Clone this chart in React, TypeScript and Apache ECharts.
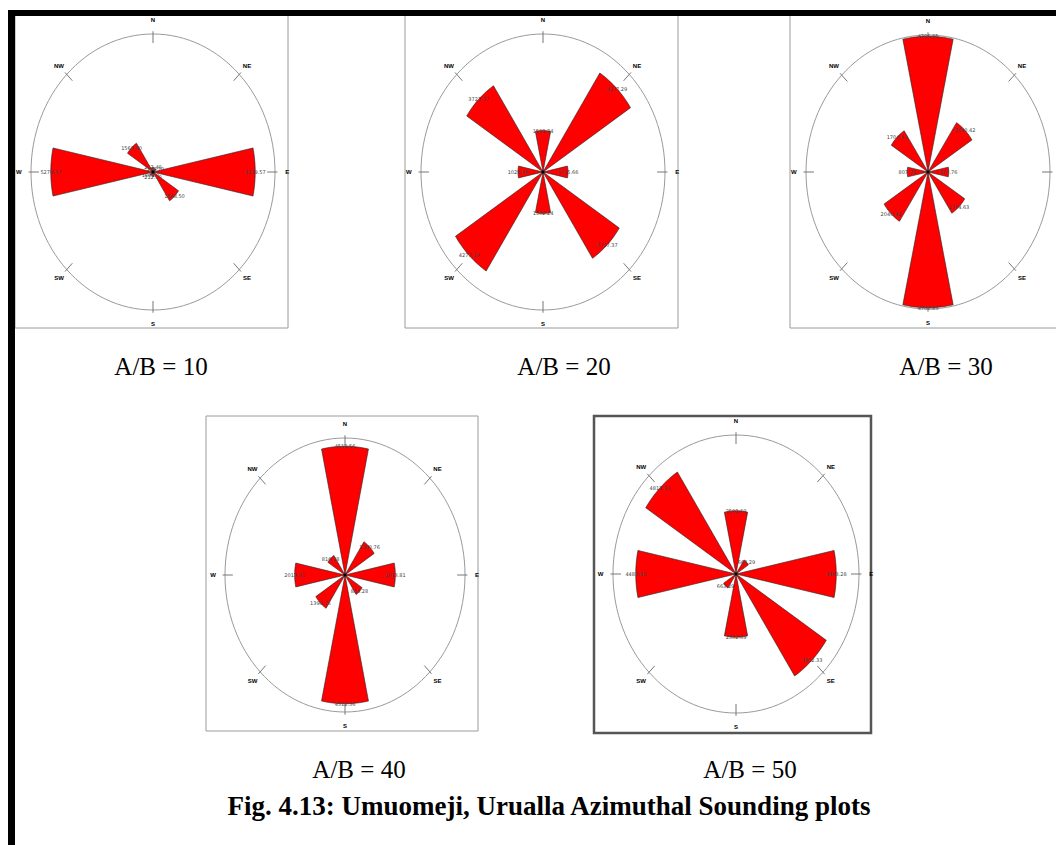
import React, { useEffect, useRef } from "react";
import * as echarts from "echarts";

// Azimuths at which apparent resistivity was measured (degrees from north).
// Each reading is drawn as a petal in its own direction and in the opposite one.
const AZIMUTHS = [0, 45, 90, 135];

// Electrode half-spacings of the five soundings.
const AB_SPACINGS = [10, 20, 30, 40, 50];

// Apparent resistivity (ohm-m) per azimuth, in the order of AZIMUTHS.
const RHO_AB10 = [212.4, 186.7, 5279.57, 1568.5];
const RHO_AB20 = [1502.24, 4277.29, 1025.66, 3727.37];
const RHO_AB30 = [4706.85, 2040.42, 807.76, 1704.63];
const RHO_AB40 = [4512.56, 1390.76, 2013.81, 816.28];
const RHO_AB50 = [2502.69, 663.29, 4483.28, 4812.33];

// Value at the outer ring of each rose.
const RADIUS_MAX = [6300, 5000, 4750, 4800, 5500];

const COMPASS = ["N", "NE", "E", "SE", "S", "SW", "W", "NW"];

const CAPTION = "Fig. 4.13: Umuomeji, Urualla Azimuthal Sounding plots";

// Page layout for each rose: frame box, ring centre and ring radii (px).
const LAYOUT = [
  { box: [15, 15, 273, 313], cx: 153, cy: 172, rx: 122, ry: 138, cap: [161, 366], heavy: false },
  { box: [405, 15, 273, 313], cx: 543, cy: 172, rx: 122, ry: 138, cap: [564, 366], heavy: false },
  { box: [790, 15, 290, 313], cx: 928, cy: 172, rx: 122, ry: 137, cap: [946, 366], heavy: false },
  { box: [206, 416, 272, 315], cx: 345, cy: 575, rx: 120, ry: 137, cap: [359, 769], heavy: false },
  { box: [594, 416, 277, 317], cx: 736, cy: 574, rx: 123, ry: 139, cap: [750, 769], heavy: true },
];

const PETAL_HALF_WIDTH = 12; // degrees
const ARC_STEPS = 10;

const RHO_SETS = [RHO_AB10, RHO_AB20, RHO_AB30, RHO_AB40, RHO_AB50];

const rad = (d: number) => (d * Math.PI) / 180;

function petalData(values: number[]) {
  const out: number[][] = [];
  AZIMUTHS.forEach((az, i) => {
    out.push([az, values[i]]);
    out.push([az + 180, values[i]]);
  });
  return out;
}

function petalRender(params: any, api: any) {
  const az = api.value(0) as number;
  const v = api.value(1) as number;
  const pts: number[][] = [api.coord([0, 0])];
  for (let k = 0; k <= ARC_STEPS; k++) {
    const t = rad(az - PETAL_HALF_WIDTH + (2 * PETAL_HALF_WIDTH * k) / ARC_STEPS);
    pts.push(api.coord([v * Math.sin(t), v * Math.cos(t)]));
  }
  const tip = api.coord([v * Math.sin(rad(az)), v * Math.cos(rad(az))]);
  return {
    type: "group",
    children: [
      {
        type: "polygon",
        shape: { points: pts },
        style: { fill: "#ff0000", stroke: "#222222", lineWidth: 0.6 },
      },
      {
        type: "text",
        style: {
          text: v.toFixed(2),
          x: tip[0],
          y: tip[1],
          fill: "#444444",
          fontSize: 5,
          fontFamily: "DejaVu Sans",
          align: "center",
          verticalAlign: "middle",
        },
      },
    ],
  };
}

function frameRender(R: number) {
  return (params: any, api: any) => {
    const i = params.dataIndex as number;
    const ang = rad(api.value(0) as number);
    const c = api.coord([0, 0]);
    const p0 = api.coord([0.935 * R * Math.sin(ang), 0.935 * R * Math.cos(ang)]);
    const p1 = api.coord([1.02 * R * Math.sin(ang), 1.02 * R * Math.cos(ang)]);
    const lr = i % 2 === 0 ? 1.1 : 1.09;
    const pl = api.coord([lr * R * Math.sin(ang), lr * R * Math.cos(ang)]);
    const children: any[] = [
      {
        type: "line",
        shape: { x1: p0[0], y1: p0[1], x2: p1[0], y2: p1[1] },
        style: { stroke: "#777777", lineWidth: 1 },
      },
      {
        type: "text",
        style: {
          text: COMPASS[i],
          x: pl[0],
          y: pl[1],
          fill: "#000000",
          fontSize: 6,
          fontWeight: "bold",
          fontFamily: "Liberation Sans",
          align: "center",
          verticalAlign: "middle",
        },
      },
    ];
    if (i === 0) {
      const e = api.coord([R, 0]);
      const n = api.coord([0, R]);
      children.unshift({
        type: "ellipse",
        shape: { cx: c[0], cy: c[1], rx: e[0] - c[0], ry: c[1] - n[1] },
        style: { fill: "none", stroke: "#9a9a9a", lineWidth: 1 },
      });
    }
    return { type: "group", children };
  };
}

export default function App() {
  const ref = useRef<HTMLDivElement>(null);

  useEffect(() => {
    if (!ref.current) return;
    const chart = echarts.init(ref.current, null, { renderer: "svg" });

    const grid = LAYOUT.map((L) => ({
      left: L.cx - L.rx,
      top: L.cy - L.ry,
      width: 2 * L.rx,
      height: 2 * L.ry,
      containLabel: false,
    }));
    const xAxis = RADIUS_MAX.map((R, i) => ({
      gridIndex: i,
      type: "value",
      min: -R,
      max: R,
      show: false,
    }));
    const yAxis = RADIUS_MAX.map((R, i) => ({
      gridIndex: i,
      type: "value",
      min: -R,
      max: R,
      show: false,
    }));

    const series: any[] = [];
    RHO_SETS.forEach((vals, i) => {
      series.push({
        type: "custom",
        name: `frame-${AB_SPACINGS[i]}`,
        xAxisIndex: i,
        yAxisIndex: i,
        clip: false,
        silent: true,
        z: 1,
        data: COMPASS.map((_, k) => [k * 45, 0]),
        renderItem: frameRender(RADIUS_MAX[i]),
      });
      series.push({
        type: "custom",
        name: `A/B = ${AB_SPACINGS[i]}`,
        xAxisIndex: i,
        yAxisIndex: i,
        clip: false,
        z: 3,
        data: petalData(vals),
        renderItem: petalRender,
      });
    });

    const graphics: any[] = [];
    LAYOUT.forEach((L, i) => {
      graphics.push({
        type: "rect",
        shape: { x: L.box[0], y: L.box[1], width: L.box[2], height: L.box[3] },
        style: {
          fill: "#ffffff",
          stroke: L.heavy ? "#555555" : "#9a9a9a",
          lineWidth: L.heavy ? 2.5 : 1,
        },
        z: -10,
      });
      graphics.push({
        type: "text",
        x: L.cap[0],
        y: L.cap[1],
        style: {
          text: `A/B = ${AB_SPACINGS[i]}`,
          fill: "#000000",
          fontSize: 25,
          fontFamily: "Liberation Serif",
          align: "center",
          verticalAlign: "middle",
        },
      });
      graphics.push({
        type: "circle",
        shape: { cx: L.cx, cy: L.cy, r: 1.6 },
        style: { fill: "#000000" },
        z: 100,
      });
    });
    graphics.push({
      type: "text",
      x: 549,
      y: 806,
      style: {
        text: CAPTION,
        fill: "#000000",
        fontSize: 27,
        fontWeight: "bold",
        fontFamily: "Liberation Serif",
        align: "center",
        verticalAlign: "middle",
      },
    });
    // heavy page rules along the top and left edges
    graphics.push({
      type: "rect",
      shape: { x: 8, y: 10, width: 1048, height: 6 },
      style: { fill: "#000000" },
      z: 50,
    });
    graphics.push({
      type: "rect",
      shape: { x: 8, y: 10, width: 7, height: 835 },
      style: { fill: "#000000" },
      z: 50,
    });

    chart.setOption({
      animation: false,
      backgroundColor: "#ffffff",
      grid,
      xAxis,
      yAxis,
      series,
      graphic: graphics,
    });

    return () => chart.dispose();
  }, []);

  return (
    <div
      ref={ref}
      style={{ position: "fixed", left: 0, top: 0, width: 1056, height: 845 }}
    />
  );
}
